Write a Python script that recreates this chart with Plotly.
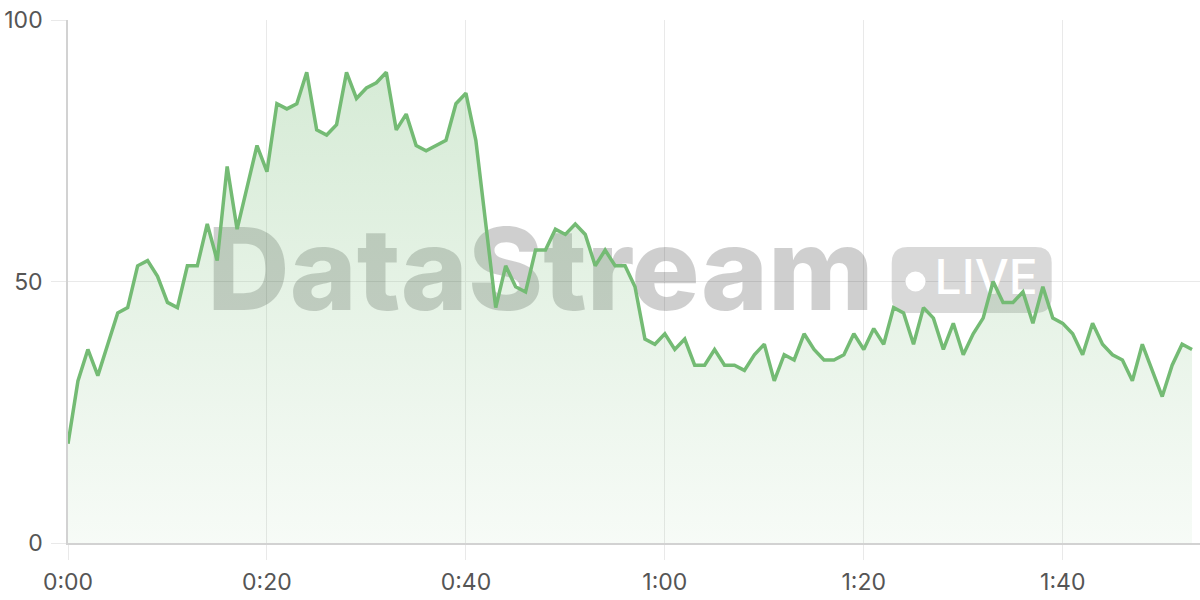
import plotly.graph_objects as go

# ---- data ----
seconds = list(range(114))
values = [19, 31, 37, 32, 38, 44, 45, 53, 54, 51,
          46, 45, 53, 53, 61, 54, 72, 60, 68, 76,
          71, 84, 83, 84, 90, 79, 78, 80, 90, 85,
          87, 88, 90, 79, 82, 76, 75, 76, 77, 84,
          86, 77, 61, 45, 53, 49, 48, 56, 56, 60,
          59, 61, 59, 53, 56, 53, 53, 49, 39, 38,
          40, 37, 39, 34, 34, 37, 34, 34, 33, 36,
          38, 31, 36, 35, 40, 37, 35, 35, 36, 40,
          37, 41, 38, 45, 44, 38, 45, 43, 37, 42,
          36, 40, 43, 50, 46, 46, 48, 42, 49, 43,
          42, 40, 36, 42, 38, 36, 35, 31, 38, 33,
          28, 34, 38, 37]
x_tick_vals = [0, 20, 40, 60, 80, 100]
x_tick_text = ["0:00", "0:20", "0:40", "1:00", "1:20", "1:40"]
y_tick_vals = [0, 50, 100]
watermark_text = "DataStream"
badge_text = "LIVE"

# ---- style ----
LINE = "#74bb74"
GRID = "#e9e9e9"
AXIS = "#d2d2d2"
FONT = "Inter"
TICK_COLOR = "#555555"

fig = go.Figure()

# watermark (drawn beneath the data trace)
fig.add_trace(go.Scatter(
    x=[47.5], y=[50.0], mode="text", text=[watermark_text],
    textposition="middle center",
    textfont=dict(family=FONT, size=114, color="rgba(0,0,0,0.19)", weight=800),
    hoverinfo="skip", showlegend=False, cliponaxis=False,
))
fig.add_trace(go.Scatter(
    x=[85.2], y=[50.0], mode="markers",
    marker=dict(size=20, color="white", line=dict(width=0)),
    hoverinfo="skip", showlegend=False, cliponaxis=False,
))
fig.add_trace(go.Scatter(
    x=[92.3], y=[50.0], mode="text", text=[badge_text],
    textposition="middle center",
    textfont=dict(family=FONT, size=48, color="white", weight=500),
    hoverinfo="skip", showlegend=False, cliponaxis=False,
))

# data
fig.add_trace(go.Scatter(
    x=seconds, y=values, mode="lines",
    line=dict(color=LINE, width=3.5),
    fill="tozeroy",
    fillgradient=dict(
        type="vertical", start=0, stop=100,
        colorscale=[[0, "rgba(116,187,116,0.06)"], [1, "rgba(116,187,116,0.32)"]],
    ),
    hoverinfo="skip", showlegend=False,
))

# LIVE badge (rounded rectangle, pixel sized)
fig.add_shape(
    type="path", layer="between",
    xref="x", yref="y", xsizemode="pixel", ysizemode="pixel",
    xanchor=90.85, yanchor=50.3,
    path="M -64,-33 L 64,-33 Q 80,-33 80,-17 L 80,17 Q 80,33 64,33 "
         "L -64,33 Q -80,33 -80,17 L -80,-17 Q -80,-33 -64,-33 Z",
    fillcolor="rgba(0,0,0,0.15)", line=dict(width=0),
)

fig.update_layout(
    width=1200, height=600,
    margin=dict(l=68, r=0, t=20, b=57, autoexpand=False),
    paper_bgcolor="white", plot_bgcolor="white",
    font=dict(family=FONT, size=23, color=TICK_COLOR),
    showlegend=False,
)
fig.update_xaxes(
    range=[0, 113.8], tickvals=x_tick_vals, ticktext=x_tick_text,
    showgrid=True, gridcolor=GRID, gridwidth=1,
    ticks="outside", ticklen=15, tickcolor=GRID, tickwidth=1,
    showline=True, linecolor=AXIS, linewidth=1.5, automargin=False,
    zeroline=False, ticklabelstandoff=3, ticklabeloverflow="allow",
)
fig.update_yaxes(
    range=[0, 100], tickvals=y_tick_vals,
    showgrid=True, gridcolor=GRID, gridwidth=1,
    ticks="outside", ticklen=15, tickcolor=GRID, tickwidth=1,
    showline=True, linecolor=AXIS, linewidth=1.5, automargin=False,
    zeroline=False, ticklabelstandoff=4, ticklabeloverflow="allow",
)

# remove the browser's default 8px body margin so the figure fills the window
fig.write_html(
    "out.html",
    config={"displayModeBar": False},
    post_script="document.body.style.margin='0';document.body.style.overflow='hidden';",
)
